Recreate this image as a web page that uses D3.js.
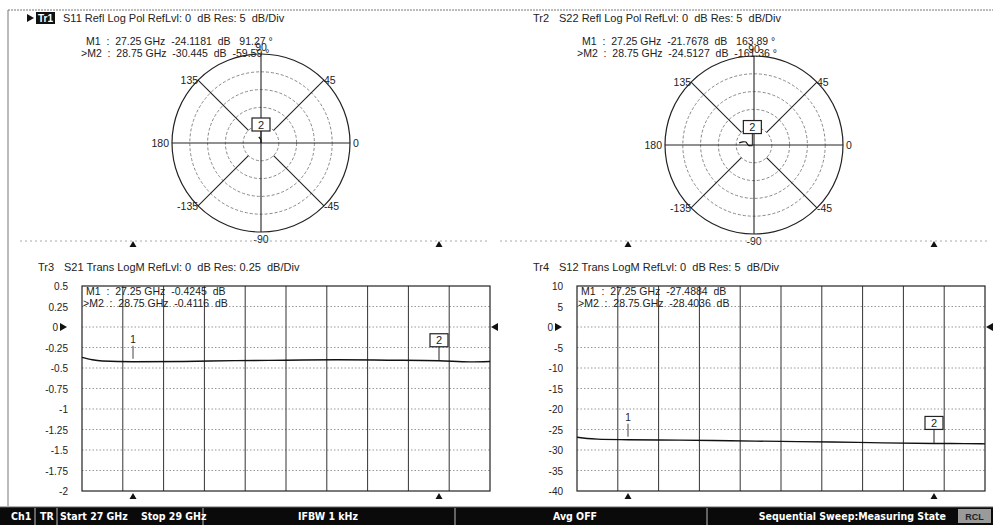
<!DOCTYPE html>
<html>
<head>
<meta charset="utf-8">
<script src="https://cdn.jsdelivr.net/npm/d3@7"></script>
<style>
  body { margin: 0; background: #fff; }
  svg text { font-family: "Liberation Sans", Arial, sans-serif; fill: #222; }
</style>
</head>
<body>
<div id="chart"></div>
<script>
// sweep / trace data
const freqs = [27.0, 27.05, 27.1, 27.25, 27.5, 27.75, 28.0, 28.25, 28.5, 28.75, 28.9, 29.0];
const s21Vals = [-0.37, -0.40, -0.415, -0.4245, -0.42, -0.41, -0.405, -0.40, -0.405, -0.4116, -0.425, -0.42];
const s12Vals = [-26.9, -27.2, -27.35, -27.49, -27.6, -27.75, -27.9, -28.05, -28.25, -28.40, -28.45, -28.5];

// polar traces (magnitude dB, phase deg)
const s11Mag = [-23.2, -24.1181, -26.0, -28.0, -29.5, -30.445];
const s11Phase = [110, 91.27, 45, 0, -35, -59.59];
const s22Mag = [-20.8, -21.7678, -22.6, -23.4, -24.0, -24.5127];
const s22Phase = [172, 163.89, 160, -178, -168, -161.36];

const markerFreqs = [27.25, 28.75];
const s21Ticks = [0.5, 0.25, 0, -0.25, -0.5, -0.75, -1, -1.25, -1.5, -1.75, -2];
const s12Ticks = [10, 5, 0, -5, -10, -15, -20, -25, -30, -35, -40];
const polarAngles = [0, 45, 90, 135, 180, -135, -90, -45];
const polarRings = [-5, -10, -15, -20];

const headers = [
  "S11 Refl Log Pol RefLvl: 0  dB Res: 5  dB/Div",
  "S22 Refl Log Pol RefLvl: 0  dB Res: 5  dB/Div",
  "S21 Trans LogM RefLvl: 0  dB Res: 0.25  dB/Div",
  "S12 Trans LogM RefLvl: 0  dB Res: 5  dB/Div"
];
const markerText = [
  ["M1  :  27.25 GHz  -24.1181  dB   91.27 °", ">M2  :  28.75 GHz  -30.445  dB  -59.59 °"],
  ["M1  :  27.25 GHz  -21.7678  dB   163.89 °", ">M2  :  28.75 GHz  -24.5127  dB  -161.36 °"],
  ["M1  :  27.25 GHz  -0.4245  dB", ">M2  :  28.75 GHz  -0.4116  dB"],
  ["M1  :  27.25 GHz  -27.4884  dB", ">M2  :  28.75 GHz  -28.4036  dB"]
];

const width = 993, height = 525;
const svg = d3.select("#chart").append("svg").attr("width", width).attr("height", height);

// page frame (scanned printout borders)
svg.append("line").attr("x1", 8).attr("x2", width).attr("y1", 10).attr("y2", 10)
  .attr("stroke", "#777").attr("stroke-dasharray", "2,1");
svg.append("line").attr("x1", 8).attr("x2", 8).attr("y1", 10).attr("y2", 506)
  .attr("stroke", "#777");

function header(x, y, tr, txt, active) {
  if (active) {
    svg.append("path").attr("d", `M${x - 10},${y - 8} L${x - 3},${y - 4} L${x - 10},${y}Z`).attr("fill", "#111");
    svg.append("rect").attr("x", x - 1).attr("y", y - 10).attr("width", 19).attr("height", 12).attr("fill", "#111");
    svg.append("text").attr("x", x + 1).attr("y", y).attr("font-size", 10).attr("font-weight", "bold")
      .style("fill", "#fff").text(tr);
  } else {
    svg.append("text").attr("x", x).attr("y", y).attr("font-size", 11).text(tr);
  }
  svg.append("text").attr("x", x + 26).attr("y", y).attr("font-size", 11).style("white-space", "pre").text(txt);
}

// ---------- polar panels ----------
const R = 89;
const rScale = d3.scaleLinear().domain([-25, 0]).range([0, R]).clamp(true);

function polarPanel(cx, cy, mags, phases, texts, tx) {
  const g = svg.append("g").attr("transform", `translate(${cx},${cy})`);
  const pt = (m, p) => [rScale(m) * Math.cos(p * Math.PI / 180), -rScale(m) * Math.sin(p * Math.PI / 180)];

  g.append("circle").attr("r", R).attr("fill", "none").attr("stroke", "#222").attr("stroke-width", 1.2);
  g.selectAll(".ring").data(polarRings).join("circle")
    .attr("r", d => rScale(d)).attr("fill", "none")
    .attr("stroke", "#888").attr("stroke-dasharray", "3,2");

  g.selectAll(".spoke").data(polarAngles).join("line")
    .attr("x1", d => (d % 90 === 0 ? 0 : rScale(-20)) * Math.cos(d * Math.PI / 180))
    .attr("y1", d => -(d % 90 === 0 ? 0 : rScale(-20)) * Math.sin(d * Math.PI / 180))
    .attr("x2", d => R * Math.cos(d * Math.PI / 180))
    .attr("y2", d => -R * Math.sin(d * Math.PI / 180))
    .attr("stroke", "#222").attr("stroke-width", 1.1);

  g.selectAll(".alab").data(polarAngles).join("text")
    .attr("font-size", 10.5)
    .attr("x", d => {
      const c = Math.cos(d * Math.PI / 180);
      return (R + (Math.abs(c) > 0.9 ? 3 : 0)) * c;
    })
    .attr("y", d => {
      const s = Math.sin(d * Math.PI / 180);
      return -(R + (Math.abs(s) > 0.9 ? 2 : 0)) * s + (s > 0.9 ? -1 : s < -0.9 ? 9 : 4);
    })
    .attr("text-anchor", d => {
      const c = Math.cos(d * Math.PI / 180);
      return c > 0.5 ? "start" : c < -0.5 ? "end" : "middle";
    })
    .text(d => d);

  const line = d3.line().curve(d3.curveCatmullRom);
  g.append("path").datum(mags.map((m, i) => pt(m, phases[i])))
    .attr("d", line).attr("fill", "none").attr("stroke", "#111").attr("stroke-width", 1.2);

  // marker 2 box
  const m2 = pt(mags[mags.length - 1], phases[phases.length - 1]);
  g.append("line").attr("x1", m2[0]).attr("x2", m2[0]).attr("y1", m2[1]).attr("y2", m2[1] - 12)
    .attr("stroke", "#222");
  g.append("rect").attr("x", m2[0] - 9).attr("y", m2[1] - 25).attr("width", 18).attr("height", 13)
    .attr("fill", "#fff").attr("stroke", "#222").attr("stroke-width", 1.2);
  g.append("text").attr("x", m2[0]).attr("y", m2[1] - 14.5).attr("text-anchor", "middle")
    .attr("font-size", 11).text("2");

  svg.append("text").attr("x", tx).attr("y", 45).attr("font-size", 10.5).style("white-space", "pre").text(texts[0]);
  svg.append("text").attr("x", tx - 5).attr("y", 57).attr("font-size", 10.5).style("white-space", "pre").text(texts[1]);
}

header(37, 22, "Tr1", headers[0], true);
header(533, 22, "Tr2", headers[1], false);
polarPanel(261, 143, s11Mag, s11Phase, markerText[0], 86);
polarPanel(754, 145, s22Mag, s22Phase, markerText[1], 582);

// dotted separators below polar panels
[[20, 490], [500, 990]].forEach(([a, b]) => {
  svg.append("line").attr("x1", a).attr("x2", b).attr("y1", 241).attr("y2", 241)
    .attr("stroke", "#aaa").attr("stroke-dasharray", "2,3");
});

// ---------- cartesian panels ----------
const plotTop = 286, plotBottom = 491;
const gridX = d3.range(0, 11).map(i => 27 + i * 0.2);

function tri(x, y, dir) {
  const d = dir === "up" ? `M${x - 3.5},${y + 6} L${x + 3.5},${y + 6} L${x},${y}Z`
    : dir === "right" ? `M${x},${y - 4} L${x + 7},${y} L${x},${y + 4}Z`
    : `M${x},${y - 4} L${x - 7},${y} L${x},${y + 4}Z`;
  svg.append("path").attr("d", d).attr("fill", "#111");
}

function cartPanel(left, right, ticks, vals, texts) {
  const x = d3.scaleLinear().domain([27, 29]).range([left, right]);
  const y = d3.scaleLinear().domain([ticks[ticks.length - 1], ticks[0]]).range([plotBottom, plotTop]);

  svg.append("g").selectAll("line").data(ticks.slice(1, -1)).join("line")
    .attr("x1", left).attr("x2", right).attr("y1", d => y(d)).attr("y2", d => y(d))
    .attr("stroke", "#999").attr("stroke-dasharray", "1.5,2");
  svg.append("g").selectAll("line").data(gridX.slice(1, -1)).join("line")
    .attr("x1", d => x(d)).attr("x2", d => x(d)).attr("y1", plotTop).attr("y2", plotBottom)
    .attr("stroke", "#333").attr("stroke-width", 1);
  svg.append("rect").attr("x", left).attr("y", plotTop).attr("width", right - left).attr("height", plotBottom - plotTop)
    .attr("fill", "none").attr("stroke", "#222").attr("stroke-width", 1.2);

  const ax = svg.append("g").attr("transform", `translate(${left - 14},0)`)
    .call(d3.axisLeft(y).tickValues(ticks).tickSize(0).tickPadding(0).tickFormat(d => d));
  ax.select(".domain").remove();
  ax.selectAll("text").attr("font-size", 10).style("font-family", "'Liberation Sans', Arial, sans-serif")
    .attr("fill", "#222").attr("dy", "0.35em")
    .attr("dx", d => d === 0 ? -10 : 0);

  tri(left - 22, y(0), "right");
  tri(right + 8, y(0), "left");

  const line = d3.line().x((d, i) => x(freqs[i])).y(d => y(d)).curve(d3.curveMonotoneX);
  svg.append("path").datum(vals).attr("d", line).attr("fill", "none")
    .attr("stroke", "#111").attr("stroke-width", 1.4);

  // markers
  const mv = markerFreqs.map(f => vals[freqs.indexOf(f)]);
  const x1 = x(markerFreqs[0]), x2 = x(markerFreqs[1]);
  svg.append("line").attr("x1", x1).attr("x2", x1).attr("y1", y(mv[0]) - 16).attr("y2", y(mv[0]) - 3)
    .attr("stroke", "#444");
  svg.append("text").attr("x", x1).attr("y", y(mv[0]) - 19).attr("text-anchor", "middle")
    .attr("font-size", 10).text("1");
  svg.append("line").attr("x1", x2).attr("x2", x2).attr("y1", y(mv[1]) - 14).attr("y2", y(mv[1]))
    .attr("stroke", "#222");
  svg.append("rect").attr("x", x2 - 9).attr("y", y(mv[1]) - 27).attr("width", 18).attr("height", 13)
    .attr("fill", "#fff").attr("stroke", "#222").attr("stroke-width", 1.2);
  svg.append("text").attr("x", x2).attr("y", y(mv[1]) - 16.5).attr("text-anchor", "middle")
    .attr("font-size", 11).text("2");

  svg.append("text").attr("x", left + 4).attr("y", 295).attr("font-size", 10.5).style("white-space", "pre").text(texts[0]);
  svg.append("text").attr("x", left + 1).attr("y", 307).attr("font-size", 10.5).style("white-space", "pre").text(texts[1]);

  return x;
}

header(38, 271, "Tr3", headers[2], false);
header(533, 271, "Tr4", headers[3], false);
const xL = cartPanel(82, 490, s21Ticks, s21Vals, markerText[2]);
const xR = cartPanel(577, 985, s12Ticks, s12Vals, markerText[3]);

// stimulus marker triangles
markerFreqs.forEach(f => {
  tri(xL(f), 241, "up");
  tri(xR(f), 241, "up");
  tri(xL(f), 493, "up");
  tri(xR(f), 493, "up");
});

// ---------- status bar ----------
const bar = svg.append("g");
bar.append("rect").attr("x", 0).attr("y", 507).attr("width", width).attr("height", 18).attr("fill", "#0a0a0a");
bar.append("line").attr("x1", 0).attr("x2", width).attr("y1", 507).attr("y2", 507).attr("stroke", "#666");
[35, 57, 203, 455, 707].forEach(sx => {
  bar.append("line").attr("x1", sx).attr("x2", sx).attr("y1", 508).attr("y2", 525).attr("stroke", "#bbb");
});
const statusItems = [
  { x: 11, t: "Ch1", a: "start" },
  { x: 40, t: "TR", a: "start" },
  { x: 60, t: "Start 27 GHz", a: "start" },
  { x: 141, t: "Stop 29 GHz", a: "start" },
  { x: 328, t: "IFBW 1 kHz", a: "middle" },
  { x: 575, t: "Avg OFF", a: "middle" },
  { x: 946, t: "Sequential Sweep:Measuring State", a: "end" }
];
bar.selectAll("text").data(statusItems).join("text")
  .attr("x", d => d.x).attr("y", 520).attr("text-anchor", d => d.a)
  .attr("font-size", 10.5).attr("font-weight", "bold")
  .style("font-family", "'Liberation Sans Narrow', 'DejaVu Sans Condensed', sans-serif")
  .style("fill", "#fff").text(d => d.t);
bar.append("rect").attr("x", 958).attr("y", 509).attr("width", 33).attr("height", 14).attr("fill", "#9a9a9a");
bar.append("text").attr("x", 974.5).attr("y", 520).attr("text-anchor", "middle").attr("font-size", 9)
  .attr("font-weight", "bold").style("fill", "#222").text("RCL");
</script>
</body>
</html>
